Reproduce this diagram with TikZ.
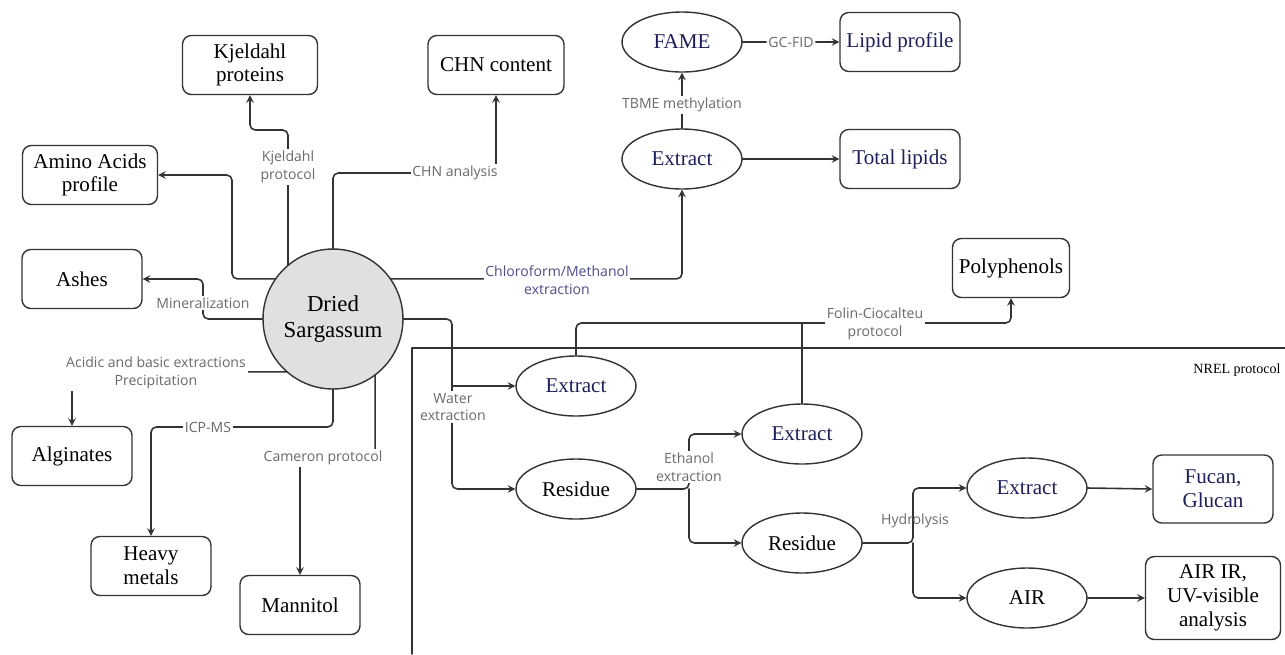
\documentclass[tikz,border=0pt]{standalone}
\usepackage{fontspec}
\setmainfont{Liberation Serif}
\newfontfamily\boxfont{Liberation Serif}
\newfontfamily\lblfont{Open Sans}
\usetikzlibrary{shapes.geometric}
\definecolor{inkblue}{HTML}{1E1E5A}
\definecolor{linegray}{HTML}{333333}
\definecolor{lblgray}{HTML}{6A6A6A}
\definecolor{lblblue}{HTML}{4E4E88}
\definecolor{sargfill}{HTML}{E0E0E0}

\begin{document}
\begin{tikzpicture}[x=0.02cm, y=-0.02cm, line cap=round, line join=round, >=stealth, font=\boxfont\fontsize{12}{13.5}\selectfont]
	\tikzset{box/.style={draw=linegray, line width=0.8pt, rounded corners=5pt, align=center, inner sep=1pt, minimum width=2.4cm, minimum height=1.18cm, font=\boxfont\fontsize{12}{13.5}\selectfont},
		oval/.style={draw=linegray, line width=0.8pt, ellipse, align=center, inner sep=0pt, minimum width=2.4cm, minimum height=1.2cm, font=\boxfont\fontsize{12}{13.5}\selectfont},
		conn/.style={->, draw=linegray, line width=0.9pt, rounded corners=3pt},
		lbl/.style={fill=white, inner sep=1pt, align=center, text=lblgray, font=\lblfont\fontsize{8}{10}\selectfont}}
	\useasboundingbox (0,0) rectangle (1285,654);
	% sample
	\node[circle, draw=linegray, line width=0.8pt, fill=sargfill, minimum size=2.8cm, outer sep=0pt, align=center, font=\boxfont\fontsize{13}{15}\selectfont] (sarg) at (333,319) {Dried\\Sargassum};
	% direct analyses
	\node[box, minimum width=2.7cm] (kjel) at (250,65) {Kjeldahl\\proteins};
	\node[box, minimum width=2.7cm] (amino) at (90,175) {Amino Acids\\profile};
	\node[box] (ashes) at (82,279) {Ashes};
	\node[box, minimum width=2.72cm] (chn) at (496,65) {CHN content};
	\node[box] (algin) at (72,456) {Alginates};
	\node[box] (heavy) at (151,566) {Heavy\\metals};
	\node[box] (mann) at (300,605) {Mannitol};
	% lipids
	\node[oval, text=inkblue] (extL) at (682,159) {Extract};
	\node[oval, text=inkblue] (fame) at (682,42) {FAME};
	\node[box, text=inkblue] (lipprof) at (900,42) {Lipid profile};
	\node[box, text=inkblue] (tlip) at (900,159) {Total lipids};
	\node[box, minimum width=2.34cm] (poly) at (1011,268) {Polyphenols};
	% NREL
	\node[oval, text=inkblue] (extW) at (576,386) {Extract};
	\node[oval] (resW) at (576,489) {Residue};
	\node[oval, text=inkblue] (extE) at (802,434) {Extract};
	\node[oval] (resE) at (802,543) {Residue};
	\node[oval, text=inkblue] (extH) at (1027,488) {Extract};
	\node[oval] (air) at (1027,598) {AIR};
	\node[box, text=inkblue, minimum height=1.36cm] (fucan) at (1213,489) {Fucan,\\Glucan};
	\node[box, minimum width=2.7cm, minimum height=1.66cm] (airir) at (1213,598) {AIR IR,\\UV-visible\\analysis};
	\draw[linegray, line width=0.8pt] (412,654) -- (412,348) -- (1285,348);
	\node[font=\boxfont\fontsize{8}{10}\selectfont] (nrel) at (1237,370) {NREL protocol};

	\draw[conn] (sarg.130) |- (250,130) -- (kjel.south);
	\draw[conn] (sarg.north) |- (496,173) -- (chn.south);
	\draw[conn] (sarg.145) -| (232,175) -- (amino.east);
	\draw[conn] (sarg.west) -| (203,279) -- (ashes.east);
	\draw[conn] (sarg.229) -| (algin.north);
	\draw[conn] (sarg.south) |- (151,427) -- (heavy.north);
	\draw[conn] (sarg.-53) |- (300,458) -- (mann.north);
	\draw[conn] (sarg.35) -| (extL.south);
	\draw[conn] (extL.north) -- (fame.south);
	\draw[conn] (fame.east) -- node[lbl]{GC-FID} (lipprof.west);
	\draw[conn] (extL.east) -- (tlip.west);
	\draw[conn] (sarg.east) -| (452,489) -- (resW.west);
	\draw[conn] (452,386) -- (extW.west);
	\draw[conn] (extW.north) |- (1011,323) -- (poly.south);
	\draw[linegray, line width=0.9pt] (extE.north) -- (802,323);
	\draw[conn] (resW.east) -| (689,434) -- (extE.west);
	\draw[conn] (689,489) |- (resE.west);
	\draw[conn] (resE.east) -| (913,488) -- (extH.west);
	\draw[conn] (913,543) |- (air.west);
	\draw[conn] (extH.east) -- (fucan.west);
	\draw[conn] (air.east) -- (airir.west);

	\node[lbl] (lkjel) at (288,167) {Kjeldahl\\protocol};
	\node[lbl] (lchn) at (455,173) {CHN analysis};
	\node[lbl] (lmin) at (203,303) {Mineralization};
	\node[lbl] (lalg) at (156,373) {Acidic and basic extractions\\Precipitation};
	\node[lbl] (licp) at (208,427) {ICP-MS};
	\node[lbl] (lcam) at (323,458) {Cameron protocol};
	\node[lbl, text=lblblue] (lchl) at (557,280) {Chloroform/Methanol\\extraction};
	\node[lbl] (ltbme) at (682,105) {TBME methylation};
	\node[lbl] (lwat) at (453,407) {Water\\extraction};
	\node[lbl] (lfol) at (875,324) {Folin-Ciocalteu\\protocol};
	\node[lbl] (leth) at (689,467) {Ethanol\\extraction};
	\node[lbl, fill=none] (lhyd) at (915,521) {Hydrolysis};
\end{tikzpicture}
\end{document}
